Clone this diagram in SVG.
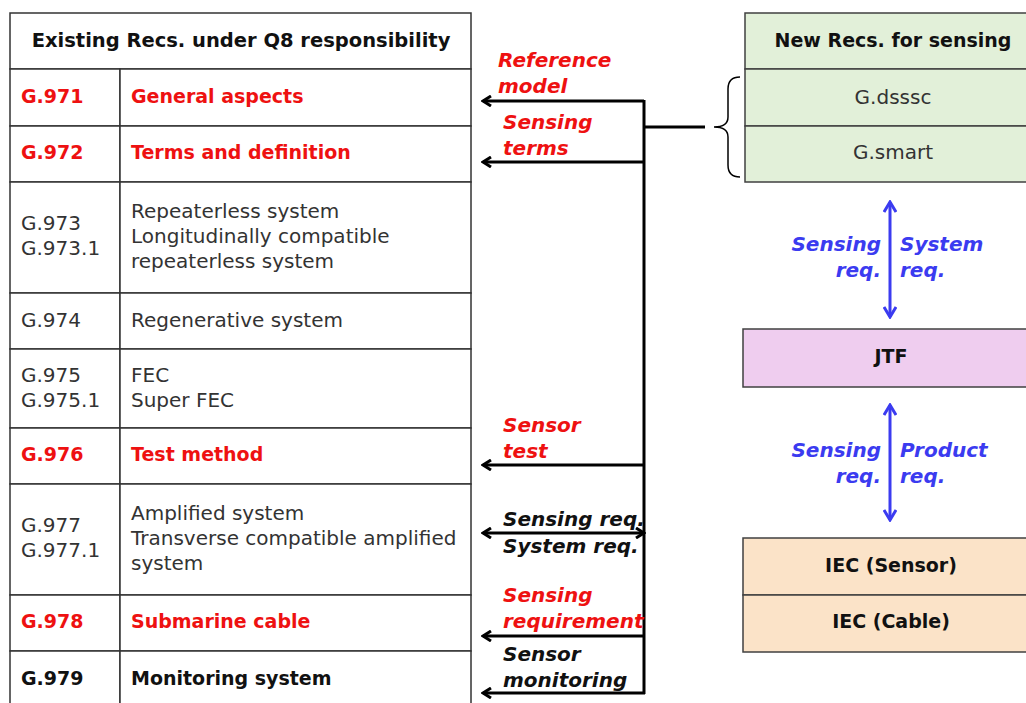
<svg xmlns="http://www.w3.org/2000/svg" width="1026" height="703" viewBox="0 0 1026 703">
  <defs>
    <style>
      .cell { fill: #ffffff; stroke: #333333; stroke-width: 1.5; }
      .grn { fill: #e2f0d9; stroke: #404040; stroke-width: 1.5; }
      .pnk { fill: #efcdef; stroke: #404040; stroke-width: 1.5; }
      .pch { fill: #fbe3c8; stroke: #404040; stroke-width: 1.5; }
      text { font-family: "DejaVu Sans", Verdana, sans-serif; font-size: 20px; }
      .b { font-weight: bold; fill: #111111; font-size: 19px; }
      .r { font-weight: bold; fill: #ee1111; font-size: 19px; }
      .hd { font-size: 19.5px; }
      .n { fill: #333333; }
      .lbl { font-weight: bold; font-style: italic; font-size: 20px; }
      .lr { fill: #ee1111; }
      .lk { fill: #111111; }
      .lb { fill: #3b3bf0; }
      .mid { text-anchor: middle; }
      .end { text-anchor: end; }
      .wire { fill: none; stroke: #000000; stroke-width: 3; }
      .blue { fill: none; stroke: #3b3bf0; stroke-width: 3; }
    </style>
    <marker id="arrK" viewBox="0 0 12 12" refX="10" refY="6" markerWidth="12" markerHeight="12" markerUnits="userSpaceOnUse" orient="auto-start-reverse">
      <path d="M2,1 L10,6 L2,11" fill="none" stroke="#000000" stroke-width="3"/>
    </marker>
    <marker id="arrB" viewBox="0 0 14 14" refX="12" refY="7" markerWidth="14" markerHeight="14" markerUnits="userSpaceOnUse" orient="auto-start-reverse">
      <path d="M2,1 L12,7 L2,13" fill="none" stroke="#3b3bf0" stroke-width="3"/>
    </marker>
  </defs>

  <rect width="1026" height="703" fill="#ffffff"/>

  <!-- Existing recommendations table -->
  <g id="existing-header">
    <rect class="cell" x="10" y="13" width="461" height="56"/>
    <text class="b hd mid" x="241" y="47">Existing Recs. under Q8 responsibility</text>
  </g>
  <g id="g971">
    <rect class="cell" x="10" y="69" width="110" height="57"/>
    <rect class="cell" x="120" y="69" width="351" height="57"/>
    <text class="r" x="21" y="103">G.971</text>
    <text class="r" x="131" y="103">General aspects</text>
  </g>
  <g id="g972">
    <rect class="cell" x="10" y="126" width="110" height="56"/>
    <rect class="cell" x="120" y="126" width="351" height="56"/>
    <text class="r" x="21" y="159">G.972</text>
    <text class="r" x="131" y="159">Terms and definition</text>
  </g>
  <g id="g973">
    <rect class="cell" x="10" y="182" width="110" height="111"/>
    <rect class="cell" x="120" y="182" width="351" height="111"/>
    <text class="n" x="21" y="230">G.973</text>
    <text class="n" x="21" y="255">G.973.1</text>
    <text class="n" x="131" y="218">Repeaterless system</text>
    <text class="n" x="131" y="243">Longitudinally compatible</text>
    <text class="n" x="131" y="268">repeaterless system</text>
  </g>
  <g id="g974">
    <rect class="cell" x="10" y="293" width="110" height="56"/>
    <rect class="cell" x="120" y="293" width="351" height="56"/>
    <text class="n" x="21" y="327">G.974</text>
    <text class="n" x="131" y="327">Regenerative system</text>
  </g>
  <g id="g975">
    <rect class="cell" x="10" y="349" width="110" height="79"/>
    <rect class="cell" x="120" y="349" width="351" height="79"/>
    <text class="n" x="21" y="382">G.975</text>
    <text class="n" x="21" y="407">G.975.1</text>
    <text class="n" x="131" y="382">FEC</text>
    <text class="n" x="131" y="407">Super FEC</text>
  </g>
  <g id="g976">
    <rect class="cell" x="10" y="428" width="110" height="56"/>
    <rect class="cell" x="120" y="428" width="351" height="56"/>
    <text class="r" x="21" y="461">G.976</text>
    <text class="r" x="131" y="461">Test method</text>
  </g>
  <g id="g977">
    <rect class="cell" x="10" y="484" width="110" height="111"/>
    <rect class="cell" x="120" y="484" width="351" height="111"/>
    <text class="n" x="21" y="532">G.977</text>
    <text class="n" x="21" y="557">G.977.1</text>
    <text class="n" x="131" y="520">Amplified system</text>
    <text class="n" x="131" y="545">Transverse compatible amplified</text>
    <text class="n" x="131" y="570">system</text>
  </g>
  <g id="g978">
    <rect class="cell" x="10" y="595" width="110" height="56"/>
    <rect class="cell" x="120" y="595" width="351" height="56"/>
    <text class="r" x="21" y="628">G.978</text>
    <text class="r" x="131" y="628">Submarine cable</text>
  </g>
  <g id="g979">
    <rect class="cell" x="10" y="651" width="110" height="60"/>
    <rect class="cell" x="120" y="651" width="351" height="60"/>
    <text class="b" x="21" y="685">G.979</text>
    <text class="b" x="131" y="685">Monitoring system</text>
  </g>

  <!-- New recommendations -->
  <g id="new-recs">
    <rect class="grn" x="745" y="13" width="290" height="56"/>
    <text class="b mid" x="893" y="47">New Recs. for sensing</text>
  </g>
  <g id="g-dsssc">
    <rect class="grn" x="745" y="69" width="290" height="57"/>
    <text class="n mid" x="893" y="104">G.dsssc</text>
  </g>
  <g id="g-smart">
    <rect class="grn" x="745" y="126" width="290" height="56"/>
    <text class="n mid" x="893" y="159">G.smart</text>
  </g>

  <g id="jtf">
    <rect class="pnk" x="743" y="329" width="290" height="58"/>
    <text class="b mid" x="891" y="363">JTF</text>
  </g>

  <g id="iec-sensor">
    <rect class="pch" x="743" y="538" width="290" height="57"/>
    <text class="b mid" x="891" y="572">IEC (Sensor)</text>
  </g>
  <g id="iec-cable">
    <rect class="pch" x="743" y="595" width="290" height="57"/>
    <text class="b mid" x="891" y="628">IEC (Cable)</text>
  </g>

  <!-- Connectors -->
  <g id="connectors">
    <!-- brace grouping G.dsssc and G.smart -->
    <path d="M740,77 Q728,77 728,89 L728,117 Q728,127 714,127 Q728,127 728,137 L728,165 Q728,177 740,177" fill="none" stroke="#000000" stroke-width="1.5"/>
    <path class="wire" d="M705,127 L644,127"/>
    <!-- trunk -->
    <path class="wire" d="M644,100 L644,694"/>
    <path class="wire" d="M644,101 L483,101" marker-end="url(#arrK)"/>
    <path class="wire" d="M644,162 L483,162" marker-end="url(#arrK)"/>
    <path class="wire" d="M644,465 L483,465" marker-end="url(#arrK)"/>
    <path class="wire" d="M644,533 L483,533" marker-start="url(#arrK)" marker-end="url(#arrK)"/>
    <path class="wire" d="M644,636 L483,636" marker-end="url(#arrK)"/>
    <path class="wire" d="M645,693 L483,693" marker-end="url(#arrK)"/>

    <!-- blue double arrows -->
    <path class="blue" d="M890,202 L890,317" marker-start="url(#arrB)" marker-end="url(#arrB)"/>
    <path class="blue" d="M890,405 L890,520" marker-start="url(#arrB)" marker-end="url(#arrB)"/>
  </g>

  <!-- Connector labels -->
  <g id="labels">
    <text class="lbl lr" x="498" y="67">Reference</text>
    <text class="lbl lr" x="498" y="93">model</text>
    <text class="lbl lr" x="503" y="129">Sensing</text>
    <text class="lbl lr" x="503" y="155">terms</text>
    <text class="lbl lr" x="503" y="432">Sensor</text>
    <text class="lbl lr" x="503" y="458">test</text>
    <text class="lbl lk" x="503" y="526">Sensing req.</text>
    <text class="lbl lk" x="503" y="553">System req.</text>
    <text class="lbl lr" x="503" y="602">Sensing</text>
    <text class="lbl lr" x="503" y="628">requirement</text>
    <text class="lbl lk" x="503" y="661">Sensor</text>
    <text class="lbl lk" x="503" y="687">monitoring</text>

    <text class="lbl lb end" x="881" y="251">Sensing</text>
    <text class="lbl lb end" x="881" y="277">req.</text>
    <text class="lbl lb" x="900" y="251">System</text>
    <text class="lbl lb" x="900" y="277">req.</text>
    <text class="lbl lb end" x="881" y="457">Sensing</text>
    <text class="lbl lb end" x="881" y="483">req.</text>
    <text class="lbl lb" x="900" y="457">Product</text>
    <text class="lbl lb" x="900" y="483">req.</text>
  </g>
</svg>
